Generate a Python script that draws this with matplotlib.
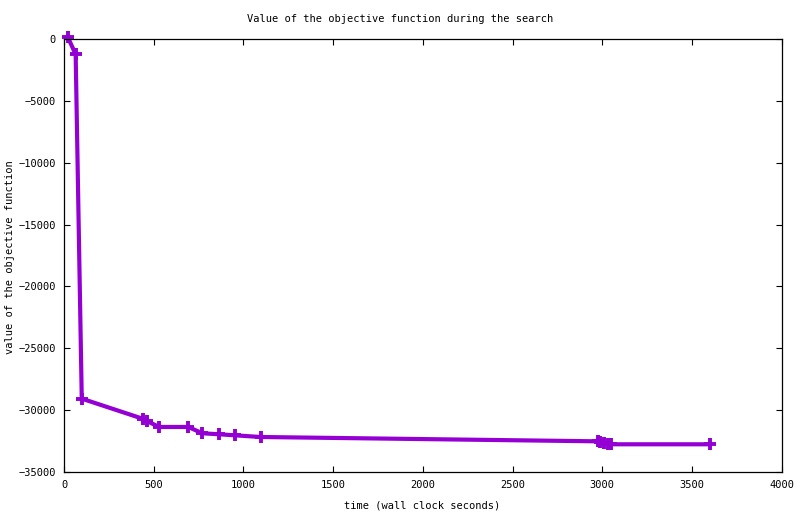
import matplotlib
matplotlib.use("Agg")
import matplotlib.pyplot as plt

# time (s) and objective value
times = [20, 65, 99, 440, 461, 531, 693, 771, 864, 953, 1096,
         2975, 2990, 3010, 3030, 3050, 3601]
values = [190, -1240, -29070, -30700, -30875, -31360, -31360, -31870, -31950,
          -32035, -32170, -32520, -32600, -32650, -32740, -32760, -32760]

xticks = list(range(0, 4001, 500))
yticks = list(range(-35000, 1, 5000))

plt.rcParams['font.family'] = ['DejaVu Sans Mono']
plt.rcParams['font.size'] = 7.5

fig = plt.figure(figsize=(8, 5.14), dpi=100)
ax = fig.add_axes([0.08, 0.0817, 0.897, 0.8424])

ax.plot(times, values, color='#9400D3', linewidth=3.0, marker='+',
        markersize=8, markeredgewidth=2.8, clip_on=False)

ax.set_xlim(0, 4000)
ax.set_ylim(-35000, 0)
ax.set_xticks(xticks)
ax.set_yticks(yticks)
ax.tick_params(direction='in', length=4, width=0.8, top=True, right=True,
               pad=6)
for s in ax.spines.values():
    s.set_linewidth(0.9)

fig.text(0.5, 1 - 19 / 514, 'Value of the objective function during the search',
         ha='center', va='center')
fig.text(0.528, 1 - 505 / 514, 'time (wall clock seconds)', ha='center', va='center')
fig.text(10 / 800, 0.5, 'value of the objective function', ha='center', va='center',
         rotation=90)

fig.savefig('out.png', dpi=100)
